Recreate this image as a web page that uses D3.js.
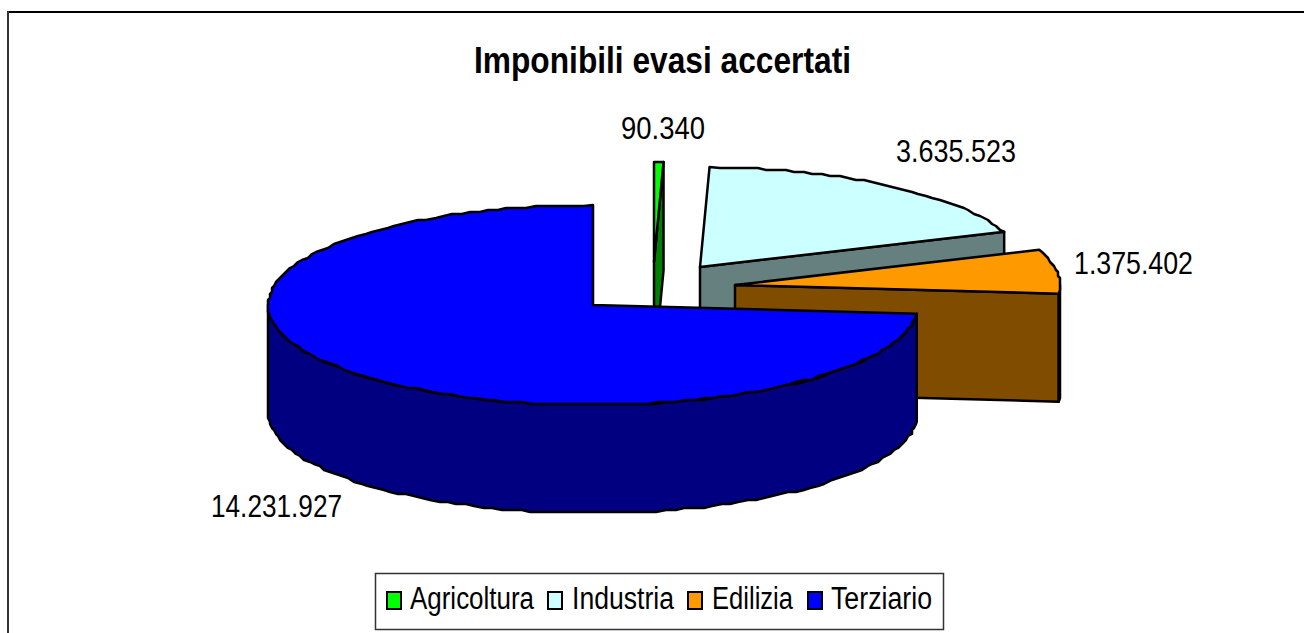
<!DOCTYPE html>
<html>
<head>
<meta charset="utf-8">
<script src="https://cdn.jsdelivr.net/npm/d3@7"></script>
<style>
    body { margin: 0; background: #ffffff; overflow: hidden; }
    text { font-family: "Liberation Sans", Arial, sans-serif; fill: #000000; }
    .title { font-size: 37px; font-weight: bold; }
    .value { font-size: 31px; }
    .legend-text { font-size: 31px; }
</style>
</head>
<body>
<svg id="chart" width="1304" height="633"></svg>
<script>
// data
const categories = ["Agricoltura", "Industria", "Edilizia", "Terziario"];
const values = [90340, 3635523, 1375402, 14231927];
const value_labels = ["90.340", "3.635.523", "1.375.402", "14.231.927"];
const top_colors = ["#00FF00", "#CCFFFF", "#FF9900", "#0000FF"];
const side_colors = ["#008000", "#668080", "#804D00", "#000080"];

// chart layout
const rx = 325;
const ry = 100;
const depth = 108;
const apex = [[654, 262], [700, 267], [735, 285], [593, 305]];
const label_pos = [[621, 139], [896, 162], [1074, 274], [211, 517]];
const label_width = [84, 120, 119, 131];
const legend_swatch_x = [387, 548, 688, 808];
const legend_text_x = [410, 572, 712, 831];
const legend_text_width = [124, 102, 81, 101];

const svg = d3.select("#chart");

const pie = d3.pie().sort(null);
const slices = pie(values);

// ellipse projection of an angle, clockwise from 12 o'clock
const xOf = (i, a) => apex[i][0] + rx * Math.sin(a);
const yOf = (i, a) => apex[i][1] - ry * Math.cos(a);

const line = d3.line();

// the original curves are slightly stepped, so snap the inner points to a small grid
const snap = v => Math.round(v / 2) * 2;

function arcPoints(i, a0, a1, dy) {
    const n = Math.max(2, Math.ceil((a1 - a0) / 0.03));
    return d3.range(n + 1).map(k => {
        const a = a0 + (a1 - a0) * k / n;
        const x = xOf(i, a), y = yOf(i, a) + dy;
        return (k === 0 || k === n) ? [x, y] : [snap(x), snap(y)];
    });
}

function drawShape(points, fill) {
    svg.append("path")
        .attr("d", line(points) + "Z")
        .attr("fill", fill)
        .attr("stroke", "#000000")
        .attr("stroke-width", 2.5)
        .attr("stroke-linejoin", "round");
}

// frame: only top and left edges show in the picture
svg.append("line")
    .attr("x1", 7).attr("y1", 12)
    .attr("x2", 1304).attr("y2", 12)
    .attr("stroke", "#000000")
    .attr("stroke-width", 2);

svg.append("line")
    .attr("x1", 8).attr("y1", 11)
    .attr("x2", 8).attr("y2", 633)
    .attr("stroke", "#333333")
    .attr("stroke-width", 2);

svg.append("text")
    .attr("class", "title")
    .attr("x", 474).attr("y", 73)
    .attr("textLength", 377)
    .attr("lengthAdjust", "spacingAndGlyphs")
    .text("Imponibili evasi accertati");

// back to front
const draw_order = [1, 2, 0, 3];
draw_order.forEach(i => {
    const s = slices[i];
    const a0 = s.startAngle, a1 = s.endAngle;
    const a_center = apex[i];

    // cut wall at the end of the slice (not for the last one, it is behind)
    if (i !== 3) {
        const ox = xOf(i, a1), oy = yOf(i, a1);
        drawShape([a_center, [ox, oy], [ox, oy + depth], [a_center[0], a_center[1] + depth]], side_colors[i]);
    }

    // outer wall, only the part facing the viewer (between 90 and 270 degrees)
    const w0 = Math.max(a0, Math.PI / 2);
    const w1 = Math.min(a1, Math.PI * 1.5);
    if (w1 > w0) {
        const upper = arcPoints(i, w0, w1, 0);
        const lower = arcPoints(i, w0, w1, depth).reverse();
        drawShape(upper.concat(lower), side_colors[i]);
    }

    // top face
    drawShape([a_center].concat(arcPoints(i, a0, a1, 0)), top_colors[i]);
});

// value labels
svg.selectAll(".value")
    .data(value_labels)
    .join("text")
    .attr("class", "value")
    .attr("x", (d, i) => label_pos[i][0])
    .attr("y", (d, i) => label_pos[i][1])
    .attr("textLength", (d, i) => label_width[i])
    .attr("lengthAdjust", "spacingAndGlyphs")
    .text(d => d);

// legend
svg.append("rect")
    .attr("x", 375.5).attr("y", 573.5)
    .attr("width", 568).attr("height", 56)
    .attr("fill", "#ffffff")
    .attr("stroke", "#333333")
    .attr("stroke-width", 1.5);

svg.selectAll(".legend-swatch")
    .data(categories)
    .join("rect")
    .attr("class", "legend-swatch")
    .attr("x", (d, i) => legend_swatch_x[i])
    .attr("y", 592)
    .attr("width", 14).attr("height", 17)
    .attr("fill", (d, i) => top_colors[i])
    .attr("stroke", "#000000")
    .attr("stroke-width", 2);

svg.selectAll(".legend-text")
    .data(categories)
    .join("text")
    .attr("class", "legend-text")
    .attr("x", (d, i) => legend_text_x[i])
    .attr("y", 609)
    .attr("textLength", (d, i) => legend_text_width[i])
    .attr("lengthAdjust", "spacingAndGlyphs")
    .text(d => d);
</script>
</body>
</html>
